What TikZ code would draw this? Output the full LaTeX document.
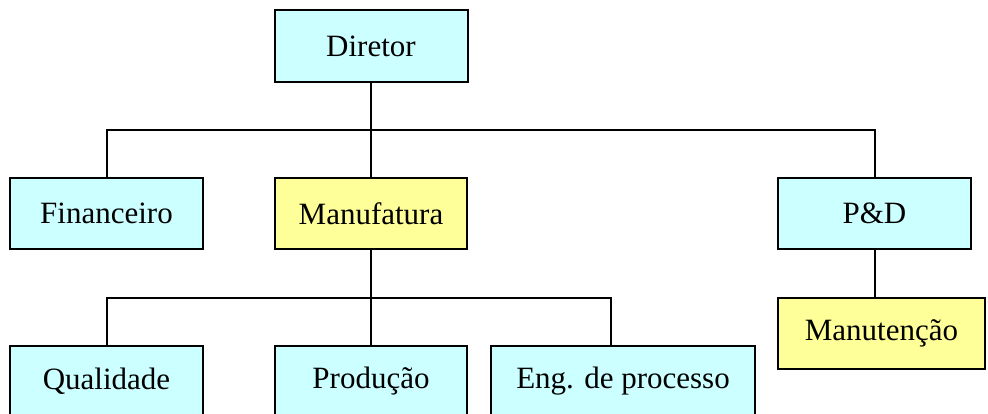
\documentclass[tikz,border=0pt]{standalone}
\usepackage{fontspec}
\setmainfont{Liberation Serif}

\begin{document}
\begin{tikzpicture}[
  x=1pt, y=1pt,
  font=\fontsize{31}{36}\selectfont,
  unit/.style={draw, line width=2pt, align=center, inner sep=0pt, minimum height=71pt, fill=cyanbox},
  focus/.style={unit, fill=yellowbox},
  link/.style={line width=2pt, draw=black}
]
\definecolor{cyanbox}{HTML}{CCFFFF}
\definecolor{yellowbox}{HTML}{FFFF99}

\useasboundingbox (0,0) rectangle (988,414);
\clip (0,0) rectangle (988,414);

\node[unit, minimum width=193pt, minimum height=72pt] (dir) at (371,368) {Diretor};

\node[unit, minimum width=193pt] (fin) at (106.5,200.5) {Financeiro};
\node[focus, minimum width=192pt] (manuf) at (371,200.5) {Manufatura};
\node[unit, minimum width=193pt] (pd) at (874.5,200.5) {P\&D};

\node[unit, minimum width=193pt] (qual) at (106.5,32.5) {Qualidade};
\node[unit, minimum width=192pt] (prod) at (371,32.5) {Produção};
\node[unit, minimum width=264pt] (eng) at (623,32.5) {Eng. de processo};
\node[focus, minimum width=207pt] (manut) at (881.5,80.5) {Manutenção};

\coordinate (bus1) at (0,284);
\coordinate (bus2) at (0,116);
\coordinate (engtop) at ([xshift=-12pt]eng.north);

\draw[link] (dir.south) -- (dir.south |- bus1);
\draw[link] (fin.north) |- (pd.north |- bus1) -- (pd.north);
\draw[link] (dir.south |- bus1) -- (manuf.north);

\draw[link] (manuf.south) -- (manuf.south |- bus2);
\draw[link] (qual.north) |- (engtop |- bus2) -- (engtop);
\draw[link] (manuf.south |- bus2) -- (prod.north);

\draw[link] (pd.south) -- (pd.south |- manut.north);

\end{tikzpicture}
\end{document}
